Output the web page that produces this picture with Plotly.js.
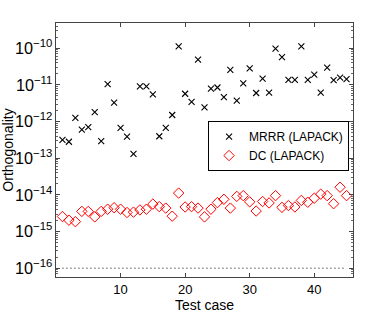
<!DOCTYPE html>
<html><head><meta charset="utf-8">
<script src="https://cdn.plot.ly/plotly-3.0.1.min.js"></script>
<style>html,body{margin:0;padding:0;background:#fff}#c{width:390px;height:314px}</style>
</head><body><div id="c"></div>
<script>
const cases = Array.from({length:45},(_,i)=>i+1);
const mrrrLog = [-12.50,-12.55,-11.90,-12.22,-12.15,-11.74,-12.53,-10.98,-11.48,-12.17,
  -12.41,-12.88,-11.04,-11.04,-11.26,-12.40,-12.17,-11.82,-9.95,-11.24,
  -11.46,-10.31,-11.61,-11.10,-11.07,-11.33,-10.59,-11.43,-10.96,-10.55,
  -11.22,-10.83,-11.21,-10.01,-10.24,-10.86,-10.86,-9.95,-10.86,-10.72,
  -11.21,-10.53,-10.87,-10.80,-10.84];
const dcLog = [-14.59,-14.69,-14.73,-14.45,-14.45,-14.60,-14.45,-14.39,-14.35,-14.39,
  -14.48,-14.47,-14.41,-14.39,-14.25,-14.32,-14.36,-14.58,-13.95,-14.33,
  -14.32,-14.36,-14.60,-14.39,-14.21,-14.12,-14.36,-14.04,-14.02,-14.19,
  -14.44,-14.18,-14.22,-14.02,-14.34,-14.29,-14.33,-14.15,-14.20,-14.09,
  -13.98,-14.02,-14.24,-13.79,-14.02];
const machineEps = 1e-16;
const xtickVals = [10,20,30,40];

const mrrr = mrrrLog.map(v=>Math.pow(10,v));
const dc = dcLog.map(v=>Math.pow(10,v));

const traces = [
  {x:cases, y:mrrr, mode:'markers', type:'scatter', name:'MRRR (LAPACK)',
   marker:{symbol:'x-thin-open', size:6, color:'#000', line:{width:1.1,color:'#000'}}},
  {x:cases, y:dc, mode:'markers', type:'scatter', name:'DC (LAPACK)',
   marker:{symbol:'diamond-open', size:8, color:'#ff0000', line:{width:1,color:'#ff0000'}}},
  {x:[cases[0], cases[cases.length-1]], y:[machineEps, machineEps], mode:'lines', type:'scatter',
   showlegend:false, hoverinfo:'skip', line:{color:'#000', width:1, dash:'1px,3px'}}
];

const axisCommon = {showline:true, linecolor:'#444', linewidth:1, mirror:'ticks',
  ticks:'inside', ticklen:4, tickcolor:'#444', showgrid:false, zeroline:false,
  tickfont:{family:'Liberation Sans, Arial, sans-serif', size:13, color:'#000'}};

const layout = {
  width:390, height:314,
  margin:{l:56, r:37, t:23, b:37},
  paper_bgcolor:'#fff', plot_bgcolor:'#fff',
  font:{family:'Liberation Sans, Arial, sans-serif', color:'#000'},
  xaxis:Object.assign({}, axisCommon, {range:[0,46], tickvals:xtickVals,
    title:{text:'Test case', font:{size:14}, standoff:0}}),
  yaxis:Object.assign({}, axisCommon, {type:'log', range:[-16.24,-9.31],
    dtick:1, exponentformat:'power', showexponent:'all',
    minor:{dtick:'D1', ticks:'inside', ticklen:2, tickcolor:'#666', showgrid:false},
    title:{text:'Orthogonality', font:{size:14}, standoff:2}}),
  legend:{x:0.512, y:0.614, xanchor:'left', yanchor:'top', bgcolor:'#fff',
    bordercolor:'#000', borderwidth:1, font:{size:12}, tracegroupgap:0, itemwidth:30},
  showlegend:true
};
Plotly.newPlot('c', traces, layout, {staticPlot:true, displayModeBar:false});
</script></body></html>
